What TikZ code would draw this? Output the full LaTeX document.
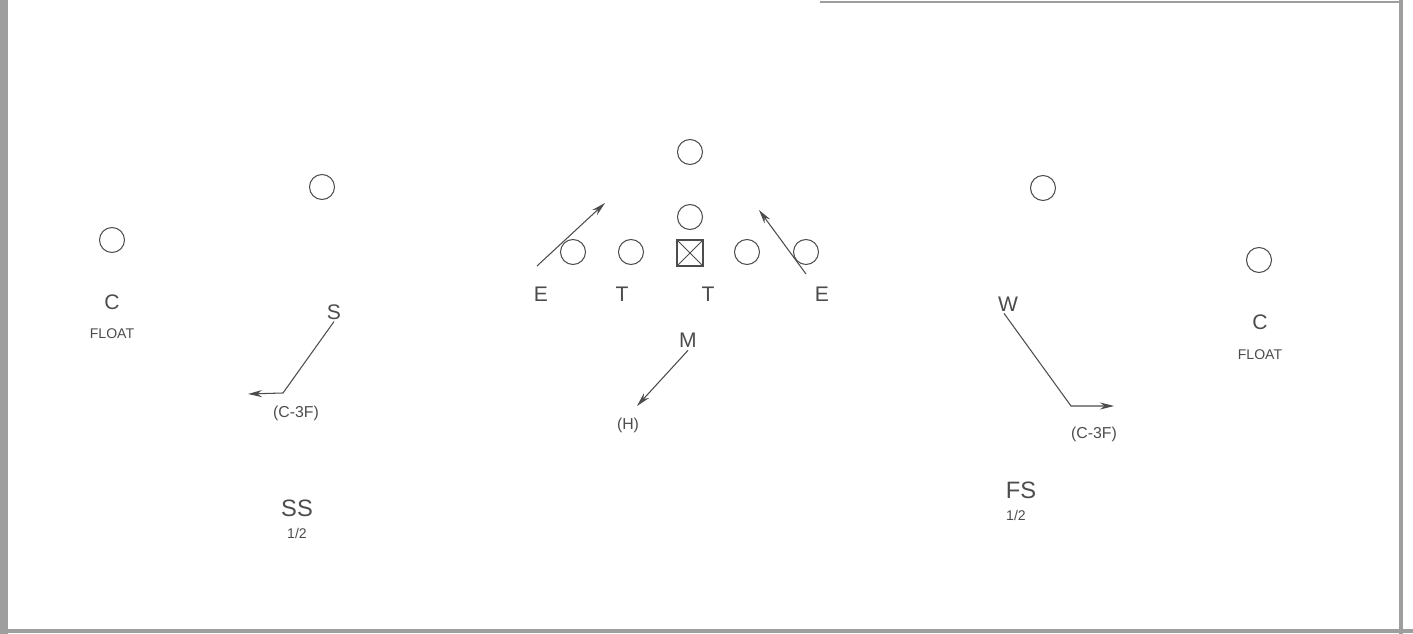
\documentclass[tikz,border=0pt]{standalone}
\usepackage{fontspec}
\setmainfont{Liberation Sans}
\usetikzlibrary{arrows.meta}
\definecolor{ink}{gray}{0.3}
\definecolor{scan}{gray}{0.62}
\tikzset{
  player/.style={circle,draw=ink,line width=0.6pt,minimum size={25*0.02cm},inner sep=0pt},
  center/.style={rectangle,draw=ink,line width=0.6pt,minimum size={26*0.02cm},inner sep=0pt,
    path picture={\draw[ink,line width=0.5pt] (path picture bounding box.south west) -- (path picture bounding box.north east)
      (path picture bounding box.north west) -- (path picture bounding box.south east);}},
  lbl/.style={text=ink,font=\fontsize{12}{12}\selectfont,inner sep=1pt},
  small/.style={text=ink,font=\fontsize{8}{8}\selectfont,inner sep=1pt},
  cov/.style={text=ink,font=\fontsize{9}{9}\selectfont,inner sep=1pt},
  zone/.style={text=ink,font=\fontsize{13.5}{13.5}\selectfont,inner sep=1pt},
  route/.style={draw=ink,line width=0.6pt,-{Stealth[length=8pt,width=4pt]}},
}
\begin{document}
\begin{tikzpicture}[x=0.02cm,y=-0.02cm]
\useasboundingbox (0,0) rectangle (1413,634);
% scan frame
\fill[scan] (0,0) rectangle (8,634);
\draw[scan,line width=2pt] (0,631) -- (1413,631);
\draw[scan,line width=2pt] (1401,0) -- (1401,634);
\draw[scan,line width=1.5pt] (820,2) -- (1403,2);
% offense
\node[player] (b1) at (690,152) {};
\node[player] (b2) at (690,217) {};
\node[center] (c) at (690,253) {};
\node[player] (lg) at (631,252) {};
\node[player] (lt) at (573,252) {};
\node[player] (rg) at (747,252) {};
\node[player] (rt) at (806,252) {};
\node[player] (wl) at (112,240) {};
\node[player] (sl) at (322,187) {};
\node[player] (sr) at (1043,188) {};
\node[player] (wr) at (1259,260) {};
% defense labels
\node[lbl] (e1) at (541,294) {E};
\node[lbl] (t1) at (622,294) {T};
\node[lbl] (t2) at (708,294) {T};
\node[lbl] (e2) at (822,294) {E};
\node[lbl] (m) at (688,340) {M};
\node[lbl] (s) at (334,312) {S};
\node[lbl] (w) at (1008,304) {W};
\node[lbl] (cl) at (112,302) {C};
\node[small] (fl) at (112,334) {FLOAT};
\node[lbl] (cr) at (1260,322) {C};
\node[small] (fr) at (1260,355) {FLOAT};
\node[cov] (sc) at (296,413) {(C-3F)};
\node[cov] (hc) at (628,425) {(H)};
\node[cov] (wc) at (1094,434) {(C-3F)};
\node[zone] (ss) at (297,508) {SS};
\node[small] (ssh) at (297,533) {1/2};
\node[zone] (fs) at (1021,490) {FS};
\node[small] (fsh) at (1016,515) {1/2};
% routes
\coordinate (e1s) at (537,266);
\coordinate (e1e) at (605,203);
\coordinate (e2s) at (806,274);
\coordinate (e2e) at (759,210);
\coordinate (mend) at (637,406);
\coordinate (sbend) at (283,393);
\coordinate (send) at (248,394);
\coordinate (wbend) at (1071,406);
\coordinate (wend) at (1114,406);
\draw[route] (e1s) -- (e1e);
\draw[route] (e2s) -- (e2e);
\draw[route] (m.south) ++(0,1) -- (mend);
\draw[route] (s.south) -- (sbend) -- (send);
\draw[route] (w.south) ++(-4,0) -- (wbend) -- (wend);
\end{tikzpicture}
\end{document}
